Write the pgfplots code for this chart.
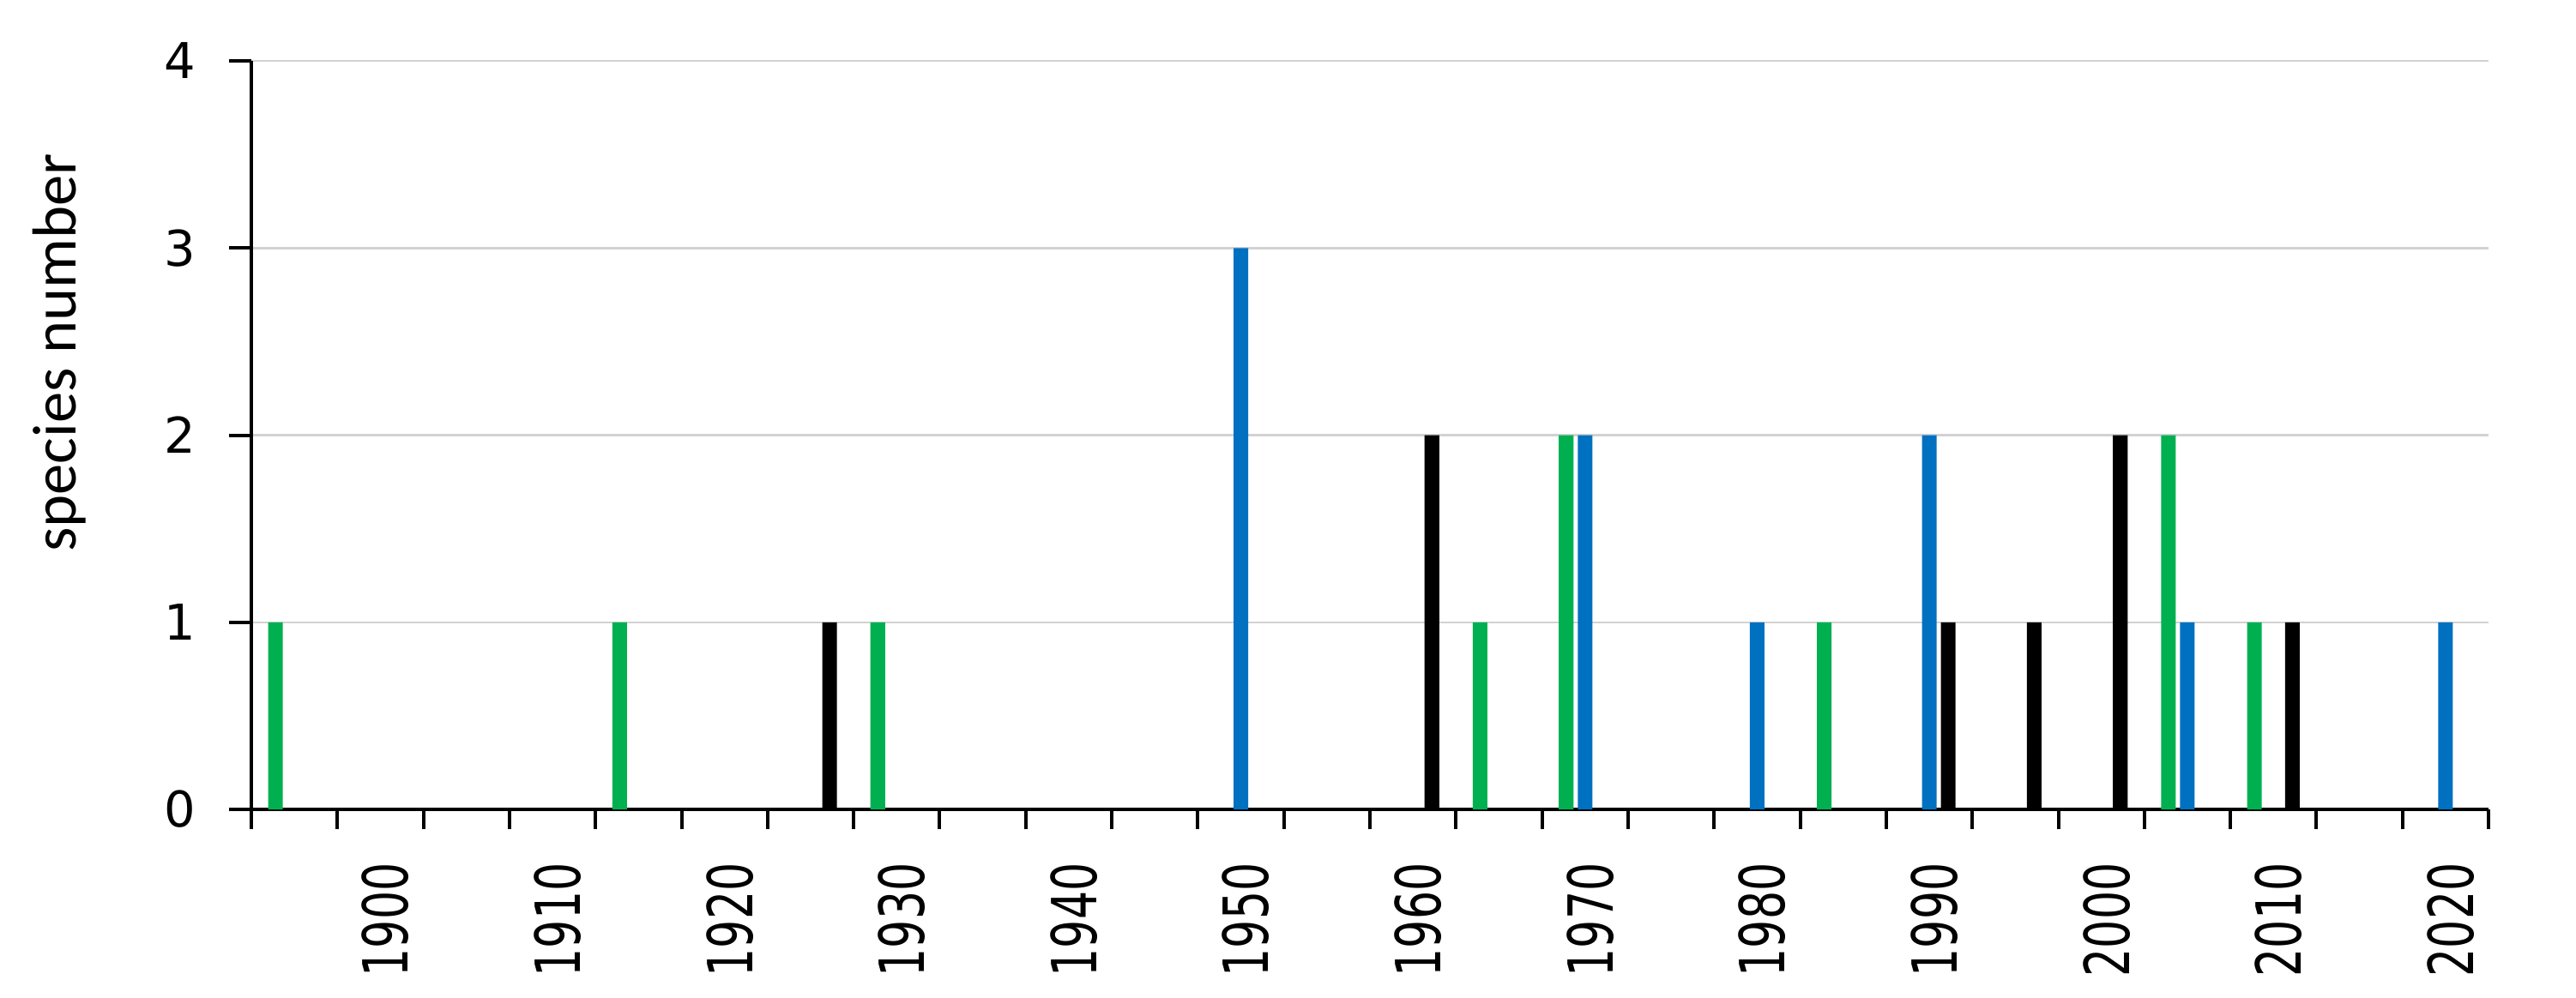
\documentclass[border=0pt]{standalone}
\usepackage{fontspec}
\setmainfont{DejaVu Sans}
\newfontfamily\calibri{Carlito}
\usepackage{pgfplots}
\pgfplotsset{compat=1.18}
\definecolor{cgreen}{RGB}{0,176,80}
\definecolor{cblue}{RGB}{0,112,192}
\begin{document}
\begin{tikzpicture}
\begin{axis}[
  name=ax,
  scale only axis,
  width=521.6pt, height=174.6pt,
  xmin=1892.5, xmax=2022.5,
  ymin=0, ymax=4,
  ybar, bar width=0.85,
  axis x line*=bottom, axis y line*=left,
  axis line style={-, line width=0.8pt},
  xtick={1900,1910,...,2020},
  minor xtick={1892.5,1897.5,...,2022.5},
  major x tick style={draw=none},
  minor x tick style={black, line width=0.8pt},
  y tick style={black, line width=0.8pt},
  tick align=outside,
  major tick length=5.2pt, minor tick length=4.6pt,
  ytick={0,1,2,3,4},
  ymajorgrids, grid style={gray!35, line width=0.5pt},
  /pgf/number format/assume math mode=true,
  /pgf/number format/set thousands separator={},
  xticklabel={\scalebox{0.72}[1]{\pgfmathprintnumber{\tick}}},
  x tick label style={font=\fontsize{14.5}{16}\selectfont,
    xshift=1.2pt, yshift=-7.1pt, rotate=90, anchor=east, inner sep=0pt},
  y tick label style={font=\fontsize{11.5}{13}\selectfont, xshift=-4.3pt},
  ylabel={\calibri species number},
  ylabel style={at={(axis description cs:-0.086,0.61)}, anchor=center,
    font=\fontsize{14.5}{16}\selectfont},
]
% green
\addplot[fill=cgreen, draw=none, bar shift=-0.1] coordinates {
  (1894,1) (1914,1) (1929,1) (1964,1) (1969,2) (1984,1) (2004,2) (2009,1)};
% blue
\addplot[fill=cblue, draw=none, bar shift=0] coordinates {
  (1950,3) (1970,2) (1980,1) (1990,2) (2005,1) (2020,1)};
% black
\addplot[fill=black, draw=none, bar shift=0.1] coordinates {
  (1926,1) (1961,2) (1991,1) (1996,1) (2001,2) (2011,1)};
\end{axis}
\path ([shift={(-58.6pt,-43.8pt)}]ax.south west) rectangle ([shift={(20.4pt,14.2pt)}]ax.north east);
\end{tikzpicture}
\end{document}
